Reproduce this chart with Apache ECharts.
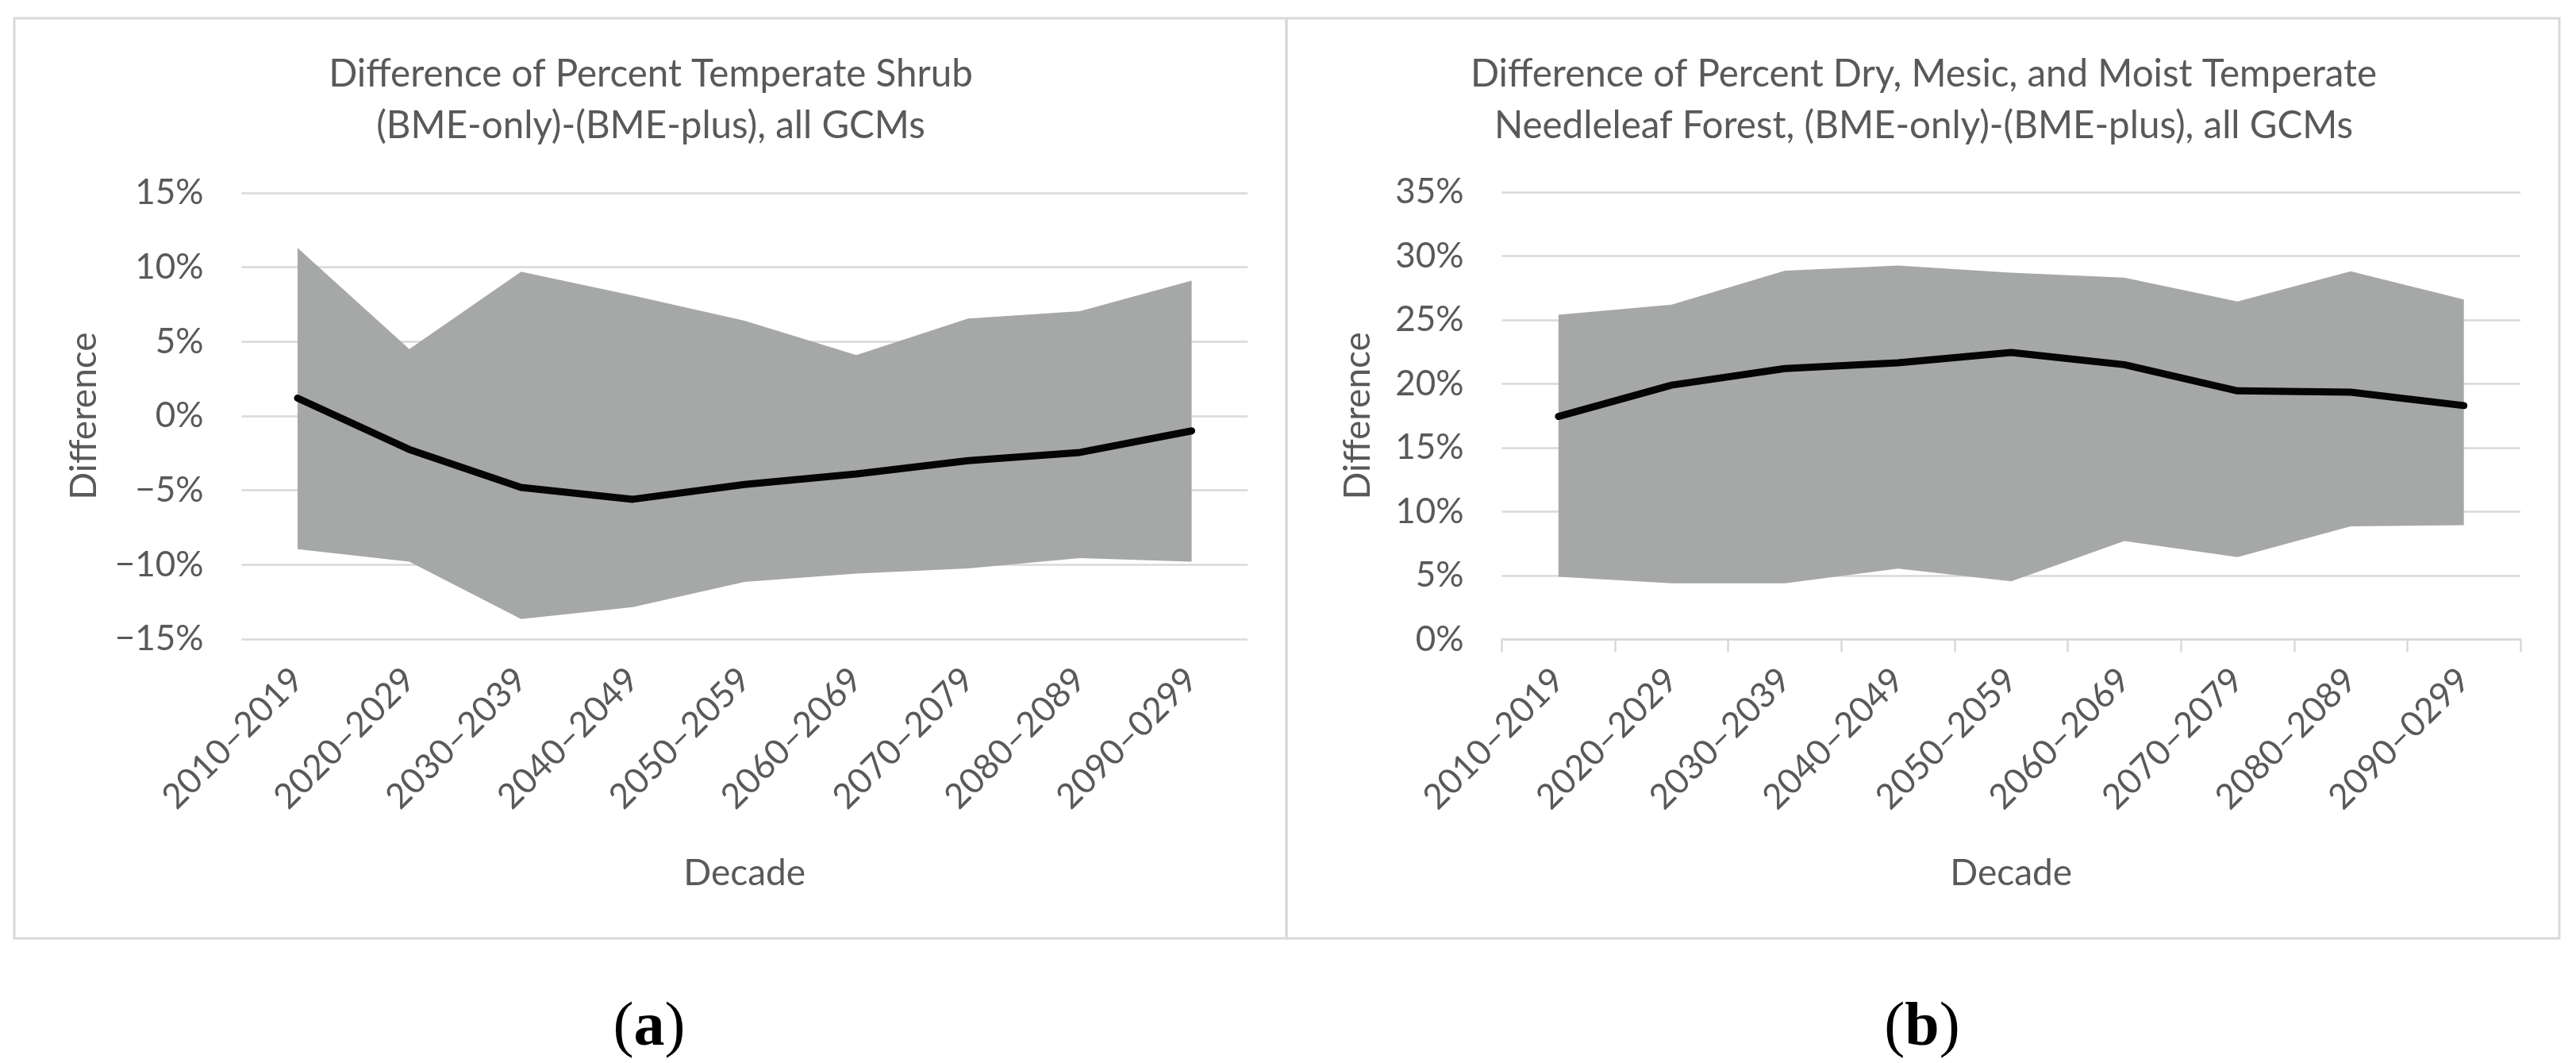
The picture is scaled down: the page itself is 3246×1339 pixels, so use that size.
<!DOCTYPE html>
<html>
<head>
<meta charset="utf-8">
<script src="https://cdn.jsdelivr.net/npm/echarts@6/dist/echarts.min.js"></script>
<style>
html,body{margin:0;padding:0;background:#fff;}
#c{width:3246px;height:1339px;}
</style>
</head>
<body>
<div id="c"></div>
<script>
// ---- data ----
var categories = ['2010–2019','2020–2029','2030–2039','2040–2049','2050–2059','2060–2069','2070–2079','2080–2089','2090–0299'];

// (a) Temperate Shrub difference (%)
var shrubMax  = [11.3, 4.5, 9.7, 8.1, 6.4, 4.1, 6.55, 7.05, 9.1];
var shrubMin  = [-8.95, -9.8, -13.65, -12.85, -11.15, -10.6, -10.25, -9.55, -9.8];
var shrubMean = [1.2, -2.25, -4.8, -5.6, -4.6, -3.9, -3.0, -2.45, -1.0];

// (b) Dry, Mesic, and Moist Temperate Needleleaf Forest difference (%)
var forestMax  = [25.4, 26.2, 28.85, 29.25, 28.7, 28.3, 26.45, 28.8, 26.6];
var forestMin  = [4.9, 4.4, 4.4, 5.55, 4.55, 7.7, 6.45, 8.85, 8.95];
var forestMean = [17.45, 19.9, 21.2, 21.65, 22.45, 21.5, 19.45, 19.35, 18.3];

// axis tick settings
var yTicksA = [-15, -10, -5, 0, 5, 10, 15];
var yTicksB = [0, 5, 10, 15, 20, 25, 30, 35];

var titleA = 'Difference of Percent Temperate Shrub\n(BME-only)-(BME-plus), all GCMs';
var titleB = 'Difference of Percent Dry, Mesic, and Moist Temperate\nNeedleleaf Forest, (BME-only)-(BME-plus), all GCMs';

// ---- styles ----
var FONT = 'Lato';
var TXT = '#595959';
var GRID = '#d9d9d9';
var FILL = '#a6a8a7';

function diff(a, b) { return a.map(function (v, i) { return +(v - b[i]).toFixed(4); }); }
function pct(v) { return (v < 0 ? '\u2212' : '') + Math.abs(v) + '%'; }

function xAxisCfg(idx, withLine) {
  return {
    type: 'category', gridIndex: idx, data: categories, boundaryGap: true,
    position: 'bottom',
    axisLine: { show: withLine, onZero: false, lineStyle: { color: GRID, width: 2.5 } },
    axisTick: { show: withLine, length: 16, lineStyle: { color: GRID, width: 2.5 } },
    axisLabel: { rotate: 45, margin: 44, color: TXT, fontFamily: FONT, fontSize: 44, interval: 0 },
    name: 'Decade', nameLocation: 'middle', nameGap: 272,
    nameTextStyle: { color: TXT, fontFamily: FONT, fontSize: 46 }
  };
}
function yAxisCfg(idx, ticks, gap) {
  return {
    type: 'value', gridIndex: idx,
    min: ticks[0], max: ticks[ticks.length - 1], interval: 5,
    axisLine: { show: false }, axisTick: { show: false },
    splitLine: { show: true, lineStyle: { color: GRID, width: 2.5 } },
    axisLabel: { margin: 48, color: TXT, fontFamily: FONT, fontSize: 44, formatter: pct },
    name: 'Difference', nameLocation: 'middle', nameGap: gap,
    nameTextStyle: { color: TXT, fontFamily: FONT, fontSize: 46 }
  };
}
function bandSeries(idx, mn, mx, stackName) {
  return [
    { type: 'line', xAxisIndex: idx, yAxisIndex: idx, data: mn, stack: stackName, stackStrategy: 'all',
      symbol: 'none', silent: true, lineStyle: { width: 0, opacity: 0 }, z: 1 },
    { type: 'line', xAxisIndex: idx, yAxisIndex: idx, data: diff(mx, mn), stack: stackName, stackStrategy: 'all',
      symbol: 'none', silent: true, lineStyle: { width: 0, opacity: 0 },
      areaStyle: { color: FILL, opacity: 1 }, z: 1 }
  ];
}
function meanSeries(idx, data) {
  return { type: 'line', xAxisIndex: idx, yAxisIndex: idx, data: data, symbol: 'none', silent: true,
    lineStyle: { color: '#050505', width: 9, cap: 'round', join: 'round' }, z: 3 };
}

var chart = echarts.init(document.getElementById('c'), null, { renderer: 'canvas' });
var option = {
  animation: false,
  backgroundColor: '#fff',
  grid: [
    { left: 304.5, top: 243, width: 1267.5, height: 562 },
    { left: 1892.5, top: 242, width: 1283.5, height: 563.5 }
  ],
  xAxis: [xAxisCfg(0, false), xAxisCfg(1, true)],
  yAxis: [yAxisCfg(0, yTicksA, 175), yAxisCfg(1, yTicksB, 158)],
  series: [].concat(
    bandSeries(0, shrubMin, shrubMax, 'a'),
    [meanSeries(0, shrubMean)],
    bandSeries(1, forestMin, forestMax, 'b'),
    [meanSeries(1, forestMean)]
  ),
  graphic: [
    { type: 'rect', shape: { x: 18, y: 23, width: 1603, height: 1159 }, style: { fill: 'none', stroke: GRID, lineWidth: 3 }, silent: true },
    { type: 'rect', shape: { x: 1621, y: 23, width: 1604, height: 1159 }, style: { fill: 'none', stroke: GRID, lineWidth: 3 }, silent: true },
    { type: 'text', x: 820, y: 126, style: { text: titleA, textAlign: 'center', textVerticalAlign: 'middle', fill: TXT, font: '47.5px Lato', lineHeight: 65 }, silent: true },
    { type: 'text', x: 2424, y: 126, style: { text: titleB, textAlign: 'center', textVerticalAlign: 'middle', fill: TXT, font: '47.5px Lato', lineHeight: 65 }, silent: true },
    { type: 'text', x: 818, y: 1296, style: { text: '{p|(}{b|a}{p|)}', textAlign: 'center', textVerticalAlign: 'middle',
        rich: { p: { fontFamily: 'Liberation Serif', fontSize: 78, color: '#000' }, b: { fontFamily: 'Liberation Serif', fontWeight: 'bold', fontSize: 78, color: '#000' } } }, silent: true },
    { type: 'text', x: 2422, y: 1296, style: { text: '{p|(}{b|b}{p|)}', textAlign: 'center', textVerticalAlign: 'middle',
        rich: { p: { fontFamily: 'Liberation Serif', fontSize: 78, color: '#000' }, b: { fontFamily: 'Liberation Serif', fontWeight: 'bold', fontSize: 78, color: '#000' } } }, silent: true }
  ]
};
chart.setOption(option);
</script>
</body>
</html>
